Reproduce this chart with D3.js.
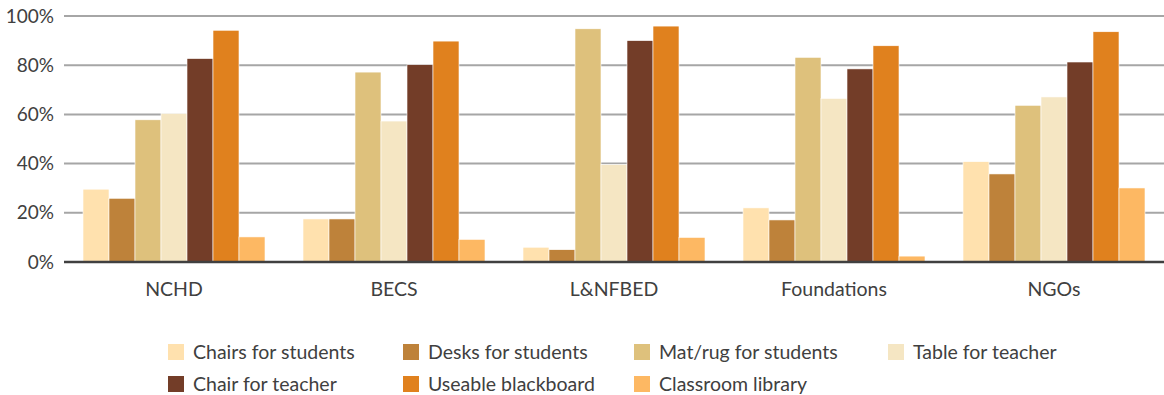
<!DOCTYPE html>
<html>
<head>
<meta charset="utf-8">
<script src="https://cdn.jsdelivr.net/npm/d3@7"></script>
<style>
  body { margin: 0; background: #fff; }
  svg text { font-family: Lato, "Open Sans", sans-serif; fill: #404040; }
</style>
</head>
<body>
<svg id="chart" width="1164" height="395"></svg>
<script>
// data
const categories = ['NCHD', 'BECS', 'L&NFBED', 'Foundations', 'NGOs'];
const seriesNames = ['Chairs for students', 'Desks for students', 'Mat/rug for students',
    'Table for teacher', 'Chair for teacher', 'Useable blackboard', 'Classroom library'];
const chairsStudents = [29.6, 17.5, 6.0, 22.0, 40.8];
const desksStudents = [25.9, 17.5, 5.0, 17.1, 35.8];
const matRug = [57.8, 77.2, 94.8, 83.2, 63.7];
const tableTeacher = [60.4, 57.3, 39.6, 66.5, 67.1];
const chairTeacher = [82.7, 80.2, 90.0, 78.5, 81.3];
const blackboard = [94.2, 89.8, 95.9, 87.9, 93.6];
const library = [10.2, 9.2, 10.0, 2.4, 30.1];
const yTicks = [0, 20, 40, 60, 80, 100];

const colors = ['#FFE1AE', '#BE823A', '#DEC17C', '#F5E6C3', '#733D28', '#E0811E', '#FDB863'];
const seriesValues = [chairsStudents, desksStudents, matRug, tableTeacher, chairTeacher, blackboard, library];

const m = {left: 64, right: 0, top: 16, bottom: 133};
const W = 1164, H = 395;
const svg = d3.select('#chart');

const x0 = d3.scaleBand().domain(categories).range([m.left, W - m.right]).paddingInner(0).paddingOuter(0);
const x1 = d3.scaleBand().domain(d3.range(seriesNames.length))
    .range([19, x0.bandwidth() - 19]);
const y = d3.scaleLinear().domain([0, 100]).range([H - m.bottom, m.top]);

// gridlines
svg.append('g').selectAll('line')
    .data(yTicks.filter(t => t > 0))
    .join('line')
    .attr('x1', m.left).attr('x2', W - m.right)
    .attr('y1', d => y(d)).attr('y2', d => y(d))
    .attr('stroke', '#A6A6A6').attr('stroke-width', 2);

// y labels
svg.append('g').selectAll('text')
    .data(yTicks)
    .join('text')
    .attr('x', 54).attr('y', d => y(d))
    .attr('text-anchor', 'end').attr('dy', '0.35em')
    .attr('font-size', 19)
    .text(d => d + '%');

// bars
const groups = svg.append('g').selectAll('g')
    .data(categories)
    .join('g')
    .attr('transform', d => 'translate(' + x0(d) + ',0)');

groups.selectAll('rect')
    .data((c, ci) => seriesValues.map((s, si) => ({si: si, v: s[ci]})))
    .join('rect')
    .attr('x', d => x1(d.si))
    .attr('y', d => y(d.v))
    .attr('width', x1.bandwidth())
    .attr('height', d => y(0) - y(d.v))
    .attr('fill', d => colors[d.si])
    .attr('stroke', '#fff').attr('stroke-width', 0.6);

// baseline
svg.append('line')
    .attr('x1', m.left).attr('x2', W - m.right)
    .attr('y1', y(0)).attr('y2', y(0))
    .attr('stroke', '#404040').attr('stroke-width', 2.5);

// x labels
svg.append('g').selectAll('text')
    .data(categories)
    .join('text')
    .attr('x', d => x0(d) + x0.bandwidth() / 2)
    .attr('y', 289).attr('dy', '0.35em')
    .attr('text-anchor', 'middle')
    .attr('font-size', 19.5)
    .text(d => d);

// legend, 4 columns x 2 rows
const legX = [168, 403, 634, 888];
const legY = [352, 384];
const leg = svg.append('g').selectAll('g')
    .data(seriesNames)
    .join('g')
    .attr('transform', (d, i) => 'translate(' + legX[i % 4] + ',' + legY[Math.floor(i / 4)] + ')');
leg.append('rect')
    .attr('x', 0).attr('y', -8).attr('width', 16).attr('height', 16)
    .attr('fill', (d, i) => colors[i]);
leg.append('text')
    .attr('x', 25).attr('dy', '0.35em')
    .attr('font-size', 19.5)
    .text(d => d);
</script>
</body>
</html>
